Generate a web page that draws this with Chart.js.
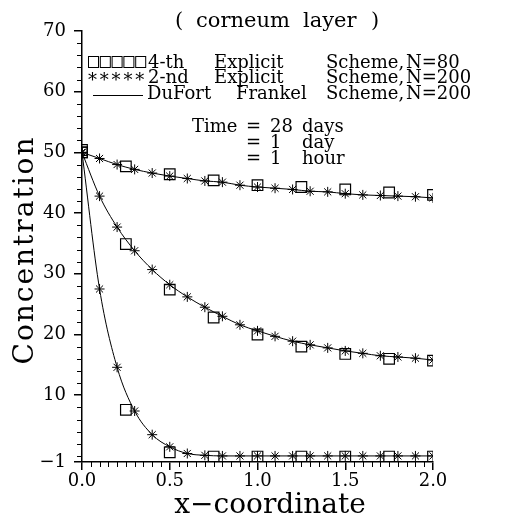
<!DOCTYPE html>
<html>
<head>
<meta charset="utf-8">
<script src="https://cdn.jsdelivr.net/npm/chart.js@4.4.0/dist/chart.umd.min.js"></script>
<style>
  html, body { margin: 0; padding: 0; background: #fff; }
  #wrap { width: 507px; height: 517px; }
</style>
</head>
<body>
<div id="wrap"><canvas id="chart" width="507" height="517"></canvas></div>
<script>
const serif = "'DejaVu Serif', serif";

// grid positions of the two explicit schemes
const xFine = [0, 0.1, 0.2, 0.3, 0.4, 0.5, 0.6, 0.7, 0.8, 0.9, 1.0,
               1.1, 1.2, 1.3, 1.4, 1.5, 1.6, 1.7, 1.8, 1.9, 2.0];
const xCoarse = [0, 0.25, 0.5, 0.75, 1.0, 1.25, 1.5, 1.75, 2.0];

// 2-nd explicit scheme, N=200 (asterisks)
const exp2_28d = [50, 49.0, 48.0, 47.2, 46.6, 46.1, 45.7, 45.3, 45.1, 44.6, 44.3,
                  44.1, 43.9, 43.6, 43.5, 43.2, 43.0, 42.9, 42.8, 42.7, 42.5];
const exp2_1d  = [50, 42.8, 37.7, 33.8, 30.7, 28.2, 26.2, 24.5, 23.0, 21.6, 20.6,
                  19.7, 18.9, 18.3, 17.8, 17.3, 16.9, 16.5, 16.3, 16.1, 15.8];
const exp2_1h  = [50, 27.5, 14.6, 7.4, 3.5, 1.5, 0.4, 0.1, 0.0, 0.0, 0.0,
                  0.0, 0.0, 0.0, 0.0, 0.0, 0.0, 0.0, 0.0, 0.0, 0.0];

// DuFort Frankel scheme, N=200 (solid line)
const duf_28d = [50, 49.0, 48.0, 47.2, 46.6, 46.1, 45.7, 45.3, 45.1, 44.6, 44.3,
                 44.1, 43.9, 43.6, 43.5, 43.2, 43.0, 42.9, 42.8, 42.7, 42.5];
const duf_1d  = [50, 42.8, 37.7, 33.8, 30.7, 28.2, 26.2, 24.5, 23.0, 21.6, 20.6,
                 19.7, 18.9, 18.3, 17.8, 17.3, 16.9, 16.5, 16.3, 16.1, 15.8];
const duf_1h  = [50, 27.5, 14.6, 7.4, 3.5, 1.5, 0.4, 0.1, 0.0, 0.0, 0.0,
                 0.0, 0.0, 0.0, 0.0, 0.0, 0.0, 0.0, 0.0, 0.0, 0.0];

// 4-th explicit scheme, N=80 (squares)
const exp4_28d = [50.4, 47.7, 46.4, 45.4, 44.6, 44.3, 43.9, 43.4, 43.0];
const exp4_1d  = [50, 34.9, 27.4, 22.8, 20.0, 18.0, 16.8, 16.0, 15.7];
const exp4_1h  = [50, 7.6, 0.6, -0.1, -0.1, -0.1, -0.1, -0.1, -0.1];

const xTicks = [0, 0.5, 1.0, 1.5, 2.0];
const yTicks = [-1, 10, 20, 30, 40, 50, 60, 70];

const pts = (xs, ys) => xs.map((x, i) => ({ x: x, y: ys[i] }));

function curve(ys) {
  return { data: pts(xFine, ys), showLine: true, borderColor: '#000', borderWidth: 1,
           pointRadius: 0, cubicInterpolationMode: 'monotone', fill: false };
}
function stars(ys) {
  return { data: pts(xFine, ys), showLine: false, pointStyle: 'star', pointRadius: 5,
           borderColor: '#000', borderWidth: 1, backgroundColor: '#000' };
}
function squares(ys) {
  return { data: pts(xCoarse, ys), showLine: false, pointStyle: 'rect', pointRadius: 7.5,
           borderColor: '#000', borderWidth: 1.2, backgroundColor: 'rgba(0,0,0,0)' };
}

// short unlabeled ticks between the numbered ones
const minorTicks = {
  id: 'minorTicks',
  afterDraw(chart) {
    const ctx = chart.ctx, xs = chart.scales.x, ys = chart.scales.y;
    const area = chart.chartArea;
    ctx.save();
    ctx.strokeStyle = '#000';
    ctx.lineWidth = 1;
    ctx.beginPath();
    for (let v = 0; v <= 70; v += 2) {
      if (v % 10 === 0 && v !== 0) continue;
      const p = Math.round(ys.getPixelForValue(v)) + 0.5;
      ctx.moveTo(area.left - 5, p); ctx.lineTo(area.left, p);
    }
    for (let i = 1; i < 40; i++) {
      if (i % 10 === 0) continue;
      const p = Math.round(xs.getPixelForValue(i * 0.05)) + 0.5;
      ctx.moveTo(p, area.bottom); ctx.lineTo(p, area.bottom + 5);
    }
    ctx.stroke();
    ctx.restore();
  }
};

// title, legend block, time labels and axis titles
const notes = {
  id: 'notes',
  afterDraw(chart) {
    const ctx = chart.ctx;
    ctx.save();
    ctx.fillStyle = '#000';
    ctx.strokeStyle = '#000';
    ctx.textBaseline = 'alphabetic';
    ctx.textAlign = 'left';

    ctx.font = '21px ' + serif;
    ctx.fillText('(', 175, 27);
    ctx.fillText('corneum', 196, 27);
    ctx.fillText('layer', 303, 27);
    ctx.fillText(')', 371, 27);

    // legend: words sit in fixed columns
    ctx.font = '18px ' + serif;
    const rows = [
      ['4-th', 148, 'Explicit', 214, 'N=80', 67.5],
      ['2-nd', 148, 'Explicit', 214, 'N=200', 83],
      ['DuFort', 147, 'Frankel', 236, 'N=200', 99]
    ];
    rows.forEach(r => {
      ctx.fillText(r[0], r[1], r[5]);
      ctx.fillText(r[2], r[3], r[5]);
      ctx.fillText('Scheme,', 326, r[5]);
      ctx.fillText(r[4], 406, r[5]);
    });
    ctx.lineWidth = 1;
    for (let i = 0; i < 5; i++) ctx.strokeRect(88.5 + i * 11.8, 56.5, 10, 11);
    for (let i = 0; i < 5; i++) ctx.fillText('*', 88 + i * 11.8, 86);
    ctx.beginPath(); ctx.moveTo(93, 95.5); ctx.lineTo(143, 95.5); ctx.stroke();

    ctx.fillText('Time', 192, 132);
    [['28', 'days', 132], ['1', 'day', 147.5], ['1', 'hour', 163.5]].forEach(r => {
      ctx.fillText('=', 246, r[2]);
      ctx.fillText(r[0], 270, r[2]);
      ctx.fillText(r[1], 302, r[2]);
    });

    ctx.font = '28px ' + serif;
    ctx.textAlign = 'center';
    ctx.fillText('x\u2212coordinate', 270, 513);
    ctx.translate(33, 250);
    ctx.rotate(-Math.PI / 2);
    ctx.letterSpacing = '2px';
    ctx.fillText('Concentration', 0, 0);
    ctx.restore();
  }
};

new Chart('chart', {
  type: 'scatter',
  data: {
    datasets: [
      curve(duf_28d), curve(duf_1d), curve(duf_1h),
      stars(exp2_28d), stars(exp2_1d), stars(exp2_1h),
      squares(exp4_28d), squares(exp4_1d), squares(exp4_1h)
    ]
  },
  options: {
    responsive: false,
    animation: false,
    layout: { padding: { left: 0, top: 31, right: 74, bottom: 0 } },
    plugins: { legend: { display: false }, tooltip: { enabled: false } },
    scales: {
      x: {
        type: 'linear', min: 0, max: 2,
        afterBuildTicks: s => { s.ticks = xTicks.map(v => ({ value: v })); },
        afterFit: s => { s.height = 55; },
        ticks: { callback: v => v.toFixed(1), color: '#000', padding: 1,
                 maxRotation: 0, autoSkip: false, font: { family: serif, size: 18 } },
        grid: { drawOnChartArea: false, drawTicks: true, tickLength: 8, color: '#000', lineWidth: 1.5 },
        border: { color: '#000', width: 1.5 }
      },
      y: {
        type: 'linear', min: -1, max: 70,
        afterBuildTicks: s => { s.ticks = yTicks.map(v => ({ value: v })); },
        afterFit: s => { s.width = 82; },
        ticks: { callback: v => (v < 0 ? '\u2212' + Math.abs(v) : String(v)), color: '#000', padding: 8,
                 autoSkip: false, font: { family: serif, size: 18 } },
        grid: { drawOnChartArea: false, drawTicks: true, tickLength: 8, color: '#000', lineWidth: 1.5 },
        border: { color: '#000', width: 1.5 }
      }
    }
  },
  plugins: [minorTicks, notes]
});
</script>
</body>
</html>
